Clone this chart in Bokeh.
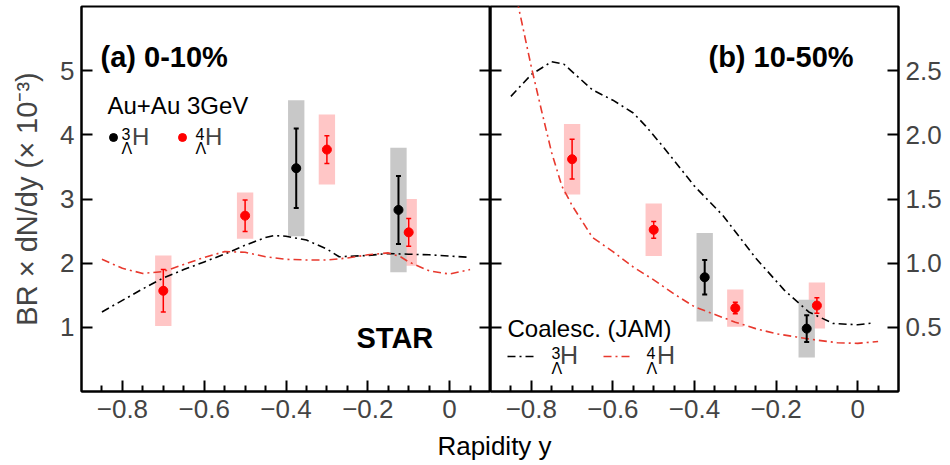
import numpy as np
from bokeh.plotting import figure
from bokeh.models import (ColumnDataSource, Range1d, LinearAxis, FixedTicker,
                          Whisker, TeeHead, Label, Legend, LegendItem,
                          CustomJSTickFormatter)
from bokeh.layouts import row, column
from bokeh.embed import file_html
from bokeh.resources import INLINE

# ---------------- data: panel (a) 0-10% ----------------
rap_h3_a = [-0.375, -0.125]
val_h3_a = [3.48, 2.83]
stat_h3_a = [0.62, 0.53]
sys_h3_a = [1.06, 0.97]

rap_h4_a = [-0.7, -0.5, -0.3, -0.1]
val_h4_a = [1.57, 2.74, 3.77, 2.48]
stat_h4_a = [0.33, 0.245, 0.215, 0.215]
sys_h4_a = [0.55, 0.36, 0.545, 0.52]

# ---------------- data: panel (b) 10-50% ----------------
rap_h3_b = [-0.375, -0.125]
val_h3_b = [0.89, 0.49]
stat_h3_b = [0.135, 0.105]
sys_h3_b = [0.345, 0.225]

rap_h4_b = [-0.7, -0.5, -0.3, -0.1]
val_h4_b = [1.81, 1.26, 0.65, 0.67]
stat_h4_b = [0.155, 0.065, 0.045, 0.06]
sys_h4_b = [0.275, 0.205, 0.145, 0.18]

# ---------------- JAM coalescence curves ----------------
jam_rap_h3_a = [-0.85, -0.80, -0.75, -0.70, -0.65, -0.60, -0.55, -0.50, -0.45, -0.43,
                -0.40, -0.35, -0.30, -0.27, -0.20, -0.15, -0.10, -0.05, 0.0, 0.05]
jam_h3_a = [1.24, 1.42, 1.60, 1.77, 1.90, 2.02, 2.14, 2.28, 2.40, 2.43,
            2.42, 2.36, 2.22, 2.10, 2.12, 2.15, 2.14, 2.13, 2.11, 2.09]

jam_rap_h4_a = [-0.85, -0.80, -0.75, -0.70, -0.65, -0.60, -0.55, -0.50, -0.45, -0.40,
                -0.35, -0.30, -0.25, -0.20, -0.15, -0.12, -0.10, -0.05, 0.0, 0.05]
jam_h4_a = [2.06, 1.92, 1.84, 1.87, 1.98, 2.09, 2.18, 2.17, 2.10, 2.06,
            2.05, 2.05, 2.08, 2.13, 2.16, 2.10, 2.02, 1.88, 1.83, 1.90]

jam_rap_h3_b = [-0.85, -0.80, -0.75, -0.72, -0.65, -0.60, -0.55, -0.52, -0.475, -0.40,
                -0.33, -0.25, -0.18, -0.12, -0.06, 0.0, 0.04]
jam_h3_b = [2.30, 2.47, 2.57, 2.55, 2.35, 2.27, 2.17, 2.07, 1.90, 1.60,
            1.37, 1.04, 0.79, 0.62, 0.53, 0.52, 0.535]

jam_rap_h4_b = [-0.835, -0.80, -0.775, -0.75, -0.725, -0.70, -0.65, -0.60, -0.55, -0.50,
                -0.45, -0.40, -0.35, -0.30, -0.25, -0.20, -0.15, -0.10, -0.05, 0.0, 0.05]
jam_h4_b = [3.05, 2.53, 2.19, 1.86, 1.60, 1.45, 1.20, 1.09, 0.97, 0.87,
            0.76, 0.66, 0.60, 0.54, 0.49, 0.45, 0.425, 0.40, 0.38, 0.375, 0.39]

# ---------------- ticks ----------------
x_major = [-0.8, -0.6, -0.4, -0.2, 0.0]
x_minor = [-0.85, -0.75, -0.7, -0.65, -0.55, -0.5, -0.45, -0.35, -0.3, -0.25,
           -0.15, -0.1, -0.05, 0.05]
y_ticks_a = [1, 2, 3, 4, 5]
y_ticks_b = [0.5, 1.0, 1.5, 2.0, 2.5]

# ---------------- style ----------------
FONT = "Liberation Sans"
BOX_W = 0.04
GRAY_BOX = "#c8c8c8"
PINK_BOX = "#ffc6c6"
RED = "#ff0000"
RED_LINE = "#e8392e"
DASH = "8 4 2 4"

xfmt = CustomJSTickFormatter(
    code="return Math.abs(tick) < 1e-9 ? '0' : tick.toFixed(1).replace('-', '\u2212');")
yfmt_b = CustomJSTickFormatter(code="return tick.toFixed(1);")


def src(rap, val, stat, sys):
    v = np.array(val)
    s = np.array(stat)
    e = np.array(sys)
    return ColumnDataSource(dict(x=rap, y=val, lo=v - s, hi=v + s, slo=v - e, shi=v + e))


def style_axis(ax, ticks, labels=True, size="26px"):
    ax.ticker = FixedTicker(ticks=ticks)
    ax.major_tick_in = 11
    ax.major_tick_out = 0
    ax.minor_tick_in = 0
    ax.minor_tick_out = 0
    ax.axis_line_width = 2
    ax.axis_line_color = "black"
    ax.major_tick_line_width = 2
    ax.major_tick_line_color = "black"
    ax.major_label_text_font = FONT
    ax.major_label_text_font_size = size
    if labels:
        ax.major_label_standoff = 7
    else:
        ax.formatter = CustomJSTickFormatter(code="return '';")
        ax.major_label_standoff = 0


def draw_panel(p, s3, s4, jx3, jy3, jx4, jy4):
    p.vbar(x="x", width=BOX_W, bottom="slo", top="shi", source=s4,
           fill_color=PINK_BOX, line_color=None)
    p.vbar(x="x", width=BOX_W, bottom="slo", top="shi", source=s3,
           fill_color=GRAY_BOX, line_color=None)
    l3 = p.line(jx3, jy3, line_color="black", line_width=1.6, line_dash=DASH)
    l4 = p.line(jx4, jy4, line_color=RED_LINE, line_width=1.6, line_dash=DASH)
    p.add_layout(Whisker(source=s4, base="x", lower="lo", upper="hi", dimension="height",
                         line_color=RED, line_width=1.5, level="annotation",
                         lower_head=TeeHead(size=5, line_color=RED, line_width=1.5),
                         upper_head=TeeHead(size=5, line_color=RED, line_width=1.5)))
    p.add_layout(Whisker(source=s3, base="x", lower="lo", upper="hi", dimension="height",
                         line_color="black", line_width=2, level="annotation",
                         lower_head=TeeHead(size=5, line_color="black", line_width=2),
                         upper_head=TeeHead(size=5, line_color="black", line_width=2)))
    d4 = p.scatter("x", "y", source=s4, size=9, fill_color=RED, line_color=RED, level="overlay")
    d3 = p.scatter("x", "y", source=s3, size=9, fill_color="black", line_color="black", level="overlay")
    return l3, l4, d3, d4


def base_fig(width, yr, **kw):
    p = figure(width=width, height=430, x_range=Range1d(-0.9, 0.1), y_range=yr,
               toolbar_location=None, output_backend="svg", min_border_top=6,
               min_border_bottom=39, **kw)
    p.grid.visible = False
    p.outline_line_color = "black"
    p.outline_line_width = 2
    p.background_fill_color = "white"
    p.border_fill_color = "white"
    xa = p.xaxis[0]
    xa.ticker = FixedTicker(ticks=x_major, minor_ticks=x_minor)
    xa.formatter = xfmt
    xa.major_tick_in = 11
    xa.major_tick_out = 0
    xa.minor_tick_in = 6
    xa.minor_tick_out = 0
    xa.axis_line_width = 2
    xa.major_tick_line_width = 2
    xa.minor_tick_line_width = 2
    xa.major_label_text_font = FONT
    xa.major_label_text_font_size = "26px"
    xa.major_label_standoff = 8
    return p


def txt(p, x, y, text, size, bold=False, align="left"):
    p.add_layout(Label(x=x, y=y, x_units="screen", y_units="screen", text=text,
                       text_font=FONT, text_font_size=size,
                       text_font_style="bold" if bold else "normal",
                       text_align=align, text_baseline="middle", text_color="black"))


def legend(p, r, x, y, gw, gh, standoff, label, size):
    lg = Legend(items=[LegendItem(label=label, renderers=[r])], location=(x, y),
                orientation="horizontal", glyph_width=gw, glyph_height=gh,
                label_height=gh, label_standoff=standoff, padding=0, margin=0,
                border_line_color=None, background_fill_alpha=0,
                label_text_font=FONT, label_text_font_size=size)
    p.add_layout(lg)


# ---------------- panel (a) ----------------
p1 = base_fig(490, Range1d(0, 6.0), min_border_left=81, min_border_right=0)
style_axis(p1.yaxis[0], y_ticks_a)
p1.yaxis[0].axis_label = "BR × dN/dy (× 10⁻³)"
p1.yaxis[0].axis_label_text_font = FONT
p1.yaxis[0].axis_label_text_font_size = "29px"
p1.yaxis[0].axis_label_text_font_style = "normal"
p1.yaxis[0].axis_label_standoff = 14
ra = LinearAxis()
style_axis(ra, y_ticks_a, labels=False)
p1.add_layout(ra, "right")

s3a = src(rap_h3_a, val_h3_a, stat_h3_a, sys_h3_a)
s4a = src(rap_h4_a, val_h4_a, stat_h4_a, sys_h4_a)
l3a, l4a, d3a, d4a = draw_panel(p1, s3a, s4a, jam_rap_h3_a, jam_h3_a, jam_rap_h4_a, jam_h4_a)

txt(p1, 19, 335, "(a) 0-10%", "29px", bold=True)
txt(p1, 26, 286, "Au+Au 3GeV", "24px")
txt(p1, 275, 54, "STAR", "29px", bold=True)
legend(p1, d3a, 22, 240, 20, 26, 9, "H", "24px")
legend(p1, d4a, 91, 240, 20, 26, 13, "H", "24px")
txt(p1, 40, 258, "3", "16px")
txt(p1, 40, 243, "Λ", "16px")
txt(p1, 114, 258, "4", "16px")
txt(p1, 114, 243, "Λ", "16px")

# ---------------- panel (b) ----------------
p2 = base_fig(460, Range1d(0, 3.0), min_border_left=0, min_border_right=52,
              y_axis_location="right")
style_axis(p2.yaxis[0], y_ticks_b)
p2.yaxis[0].formatter = yfmt_b
la = LinearAxis()
style_axis(la, y_ticks_b, labels=False)
p2.add_layout(la, "left")

s3b = src(rap_h3_b, val_h3_b, stat_h3_b, sys_h3_b)
s4b = src(rap_h4_b, val_h4_b, stat_h4_b, sys_h4_b)
l3b, l4b, d3b, d4b = draw_panel(p2, s3b, s4b, jam_rap_h3_b, jam_h3_b, jam_rap_h4_b, jam_h4_b)

txt(p2, 218, 335, "(b) 10-50%", "29px", bold=True)
txt(p2, 17, 63, "Coalesc. (JAM)", "24px")
legend(p2, l3b, 17, 21, 28, 26, 25, "H", "25px")
legend(p2, l4b, 113, 21, 30, 26, 24, "H", "25px")
txt(p2, 61, 39, "3", "16px")
txt(p2, 61, 23, "Λ", "16px")
txt(p2, 156, 39, "4", "16px")
txt(p2, 156, 23, "Λ", "16px")

# ---------------- x-axis title strip ----------------
p3 = figure(width=950, height=35, x_range=Range1d(0, 950), y_range=Range1d(0, 35),
            toolbar_location=None, output_backend="svg", x_axis_location=None,
            y_axis_location=None, min_border=0)
p3.outline_line_color = None
p3.grid.visible = False
p3.add_layout(Label(x=494, y=20, text="Rapidity y", text_font=FONT, text_font_size="26px",
                    text_align="center", text_baseline="alphabetic", text_color="black"))

layout = column(row(p1, p2), p3)
open("out.html", "w").write(file_html(layout, INLINE))
